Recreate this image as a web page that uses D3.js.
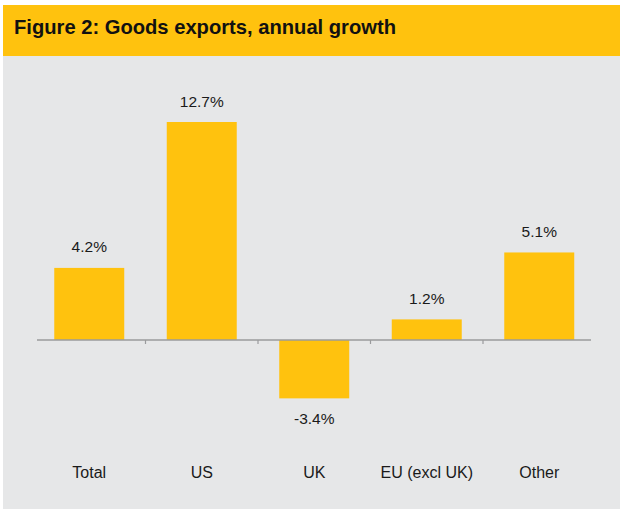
<!DOCTYPE html>
<html><head><meta charset="utf-8">
<script src="https://cdn.jsdelivr.net/npm/d3@7"></script>
<style>html,body{margin:0;padding:0;background:#fff;}svg{display:block;}</style>
</head><body>
<svg id="chart" width="621" height="511"></svg>
<script>
const categories = ["Total", "US", "UK", "EU (excl UK)", "Other"];
const values = [4.2, 12.7, -3.4, 1.2, 5.1];
const valueLabels = ["4.2%", "12.7%", "-3.4%", "1.2%", "5.1%"];
const title = "Figure 2: Goods exports, annual growth";

const svg = d3.select("#chart");
const yellow = "#FFC20E", gray = "#E6E7E8";

svg.append("rect").attr("x", 3).attr("y", 56).attr("width", 617).attr("height", 453).attr("fill", gray);
svg.append("rect").attr("x", 3).attr("y", 5).attr("width", 617).attr("height", 51).attr("fill", yellow);
svg.append("text").attr("x", 14).attr("y", 34)
  .attr("font-family", "Liberation Sans, Arial, sans-serif").attr("font-weight", "bold")
  .attr("font-size", 20.5).attr("fill", "#111").attr("textLength", 382).attr("lengthAdjust", "spacingAndGlyphs")
  .text(title);

const x = d3.scaleBand().domain(categories).range([33, 595.5]).paddingInner(0.378).paddingOuter(0.189);
const y = d3.scaleLinear().domain([0, 12.7]).range([340, 122]);

const g = svg.append("g");
g.selectAll("rect.bar").data(values).join("rect").attr("class", "bar")
  .attr("x", (d, i) => x(categories[i]))
  .attr("width", x.bandwidth())
  .attr("y", d => Math.min(y(d), y(0)))
  .attr("height", d => Math.abs(y(d) - y(0)))
  .attr("fill", yellow);

const step = x.step();
const axisG = svg.append("g");
axisG.append("line").attr("x1", 37).attr("x2", 591).attr("y1", y(0)).attr("y2", y(0))
  .attr("stroke", "#9A9B9D").attr("stroke-width", 1.5);
categories.slice(1).forEach((c) => {
  const tx = x(c) - x.paddingInner() * step / 2;
  axisG.append("line").attr("x1", tx).attr("x2", tx).attr("y1", y(0)).attr("y2", y(0) + 4)
    .attr("stroke", "#9A9B9D").attr("stroke-width", 1.2);
});

g.selectAll("text.val").data(values).join("text").attr("class", "val")
  .attr("x", (d, i) => x(categories[i]) + x.bandwidth() / 2)
  .attr("y", d => d >= 0 ? y(d) - 15.5 : y(d) + 25.5)
  .attr("text-anchor", "middle")
  .attr("font-family", "Liberation Sans, Arial, sans-serif").attr("font-size", 15.5).attr("fill", "#1a1a1a")
  .text((d, i) => valueLabels[i]);

g.selectAll("text.cat").data(categories).join("text").attr("class", "cat")
  .attr("x", d => x(d) + x.bandwidth() / 2)
  .attr("y", 477.5)
  .attr("text-anchor", "middle")
  .attr("font-family", "Liberation Sans, Arial, sans-serif").attr("font-size", 16).attr("fill", "#1a1a1a")
  .text(d => d);
</script>
</body></html>
